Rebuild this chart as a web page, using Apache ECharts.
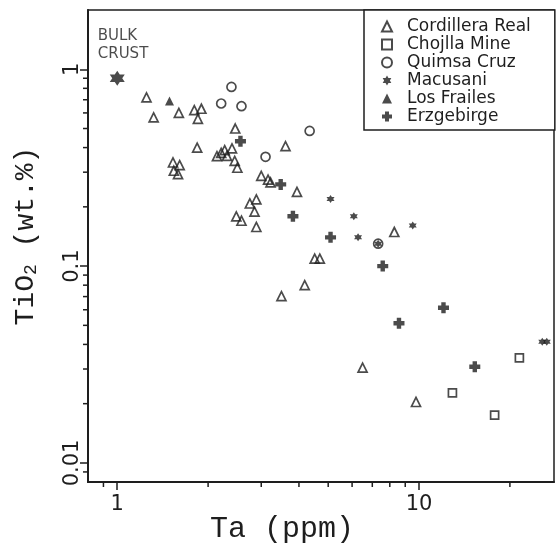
<!DOCTYPE html>
<html><head><meta charset="utf-8">
<script src="https://cdn.jsdelivr.net/npm/echarts@6/dist/echarts.min.js"></script>
<style>html,body{margin:0;padding:0;background:#fff}#c{width:556px;height:550px}</style>
</head><body><div id="c"></div>
<script>
// axis ranges and ticks
const X_MIN = 0.8, X_MAX = 28, Y_MIN = 0.008, Y_MAX = 2;
const xMajorTicks = [1, 10];
const yMajorTicks = [0.01, 0.1, 1];
const xMinorTicks = [0.9, 2, 3, 4, 5, 6, 7, 8, 9, 20];
const yMinorTicks = [0.009, 0.02, 0.03, 0.04, 0.05, 0.06, 0.07, 0.08, 0.09,
                     0.2, 0.3, 0.4, 0.5, 0.6, 0.7, 0.8, 0.9];

const legendNames = ['Cordillera Real', 'Chojlla Mine', 'Quimsa Cruz', 'Macusani', 'Los Frailes', 'Erzgebirge'];

// data [Ta ppm, TiO2 wt.%]
const bulkCrust = [[1.0, 0.90]];
const cordilleraReal = [
  [1.25, 0.72], [1.32, 0.57], [1.60, 0.60], [1.80, 0.62], [1.90, 0.63], [1.85, 0.56],
  [2.46, 0.50], [1.84, 0.40], [1.53, 0.336], [1.61, 0.326], [1.54, 0.305], [1.59, 0.293],
  [2.14, 0.362], [2.21, 0.376], [2.27, 0.388], [2.40, 0.396], [2.31, 0.363], [2.45, 0.342],
  [2.50, 0.316], [3.61, 0.407], [3.00, 0.287], [3.16, 0.275], [3.22, 0.266], [3.94, 0.238],
  [2.75, 0.208], [2.89, 0.218], [2.85, 0.189], [2.48, 0.179], [2.58, 0.170], [2.89, 0.158],
  [8.28, 0.149], [4.51, 0.109], [4.69, 0.109], [4.18, 0.080], [3.50, 0.0704], [6.50, 0.0305],
  [9.77, 0.0204]
];
const chojllaMine = [[12.9, 0.0227], [17.8, 0.0175], [21.5, 0.0342]];
const quimsaCruz = [[2.39, 0.813], [2.21, 0.67], [2.58, 0.649], [3.10, 0.359], [4.34, 0.486], [7.32, 0.130]];
const macusani = [[5.09, 0.219], [6.08, 0.179], [6.28, 0.140], [9.53, 0.161], [7.32, 0.130], [25.6, 0.0413], [26.5, 0.0413]];
const losFrailes = [[1.49, 0.69]];
const erzgebirge = [[2.56, 0.431], [3.48, 0.26], [3.82, 0.179], [5.09, 0.140], [7.58, 0.100], [8.58, 0.0512], [12.05, 0.0614], [15.3, 0.0308]];

const INK = '#1e1e1e';
const STAR = 'path://M10,0L12.89,5L18.66,5L15.77,10L18.66,15L12.89,15L10,20L7.11,15L1.34,15L4.23,10L1.34,5L7.11,5Z';
const CROSS = 'path://M6,0H14V6H20V14H14V20H6V14H0V6H6Z';

function sc(name, data, symbol, size, filled) {
  return {
    type: 'scatter', name: name, data: data, symbol: symbol, symbolSize: size, z: 3,
    itemStyle: filled ? {color: INK} : {color: 'rgba(255,255,255,0)', borderColor: INK, borderWidth: 1.7},
    emphasis: {disabled: true}
  };
}

const chart = echarts.init(document.getElementById('c'), null, {renderer: 'canvas'});
const tickFont = {fontFamily: 'DejaVu Sans', fontSize: 21, color: INK};

const option = {
  animation: false,
  backgroundColor: '#fff',
  grid: {left: 88, top: 10, right: 2, bottom: 68, show: true, borderColor: INK, borderWidth: 1.5, backgroundColor: 'transparent'},
  xAxis: {
    type: 'log', logBase: 10, min: X_MIN, max: X_MAX,
    axisLine: {show: true, lineStyle: {color: INK, width: 2}},
    axisTick: {show: true, length: 8, inside: false, lineStyle: {color: INK, width: 1.5}, customValues: xMajorTicks},
    axisLabel: Object.assign({margin: 12, customValues: xMajorTicks}, tickFont),
    splitLine: {show: false}
  },
  yAxis: {
    type: 'log', logBase: 10, min: Y_MIN, max: Y_MAX,
    axisLine: {show: true, lineStyle: {color: INK, width: 2}},
    axisTick: {show: true, length: 8, inside: false, lineStyle: {color: INK, width: 1.5}, customValues: yMajorTicks},
    axisLabel: Object.assign({margin: 5, rotate: 90, customValues: yMajorTicks}, tickFont),
    splitLine: {show: false}
  },
  legend: {
    data: legendNames,
    orient: 'vertical', left: 364, top: 10,
    padding: [8, 24, 5, 17],
    itemWidth: 10, itemHeight: 10, itemGap: 1,
    backgroundColor: '#fff', borderColor: INK, borderWidth: 1.5,
    selectedMode: false,
    textStyle: {fontFamily: 'DejaVu Sans', fontSize: 17, color: INK, lineHeight: 17, padding: [0, 0, 0, 10]}
  },
  graphic: [
    {type: 'text', left: 210, top: 514, z: 10,
     style: {text: 'Ta (ppm)', font: '30px "Liberation Mono"', fill: INK}},
    {type: 'text', x: 26, y: 236, rotation: Math.PI / 2, z: 10,
     style: {text: 'TiO{s|2} (wt.%)', font: '28px "Liberation Mono"', fill: INK,
             align: 'center', verticalAlign: 'middle',
             rich: {s: {font: '18px "Liberation Mono"', fill: INK, padding: [10, 0, 0, 0]}}}}
  ],
  series: [
    {
      type: 'scatter', name: 'Bulk crust', data: bulkCrust, symbol: STAR, symbolSize: 15, z: 3,
      itemStyle: {color: INK},
      label: {show: true, formatter: 'BULK\nCRUST', position: [-12, -44], align: 'left', verticalAlign: 'top',
              fontFamily: 'DejaVu Sans', fontSize: 15, lineHeight: 18, color: INK}
    },
    sc('Cordillera Real', cordilleraReal, 'triangle', 9, false),
    sc('Chojlla Mine', chojllaMine, 'rect', 8, false),
    sc('Quimsa Cruz', quimsaCruz, 'circle', 9, false),
    sc('Macusani', macusani, STAR, 8, true),
    sc('Los Frailes', losFrailes, 'triangle', 9, true),
    sc('Erzgebirge', erzgebirge, CROSS, 11, true),
    {
      type: 'custom', name: 'xminor', silent: true, z: 2,
      data: xMinorTicks.map(v => [v, Y_MIN]),
      renderItem: function (params, api) {
        const p = api.coord([api.value(0), api.value(1)]);
        return {type: 'line', shape: {x1: p[0], y1: p[1], x2: p[0], y2: p[1] + 5}, style: {stroke: INK, lineWidth: 1.5}};
      }
    },
    {
      type: 'custom', name: 'yminor', silent: true, z: 2,
      data: yMinorTicks.map(v => [X_MIN, v]),
      renderItem: function (params, api) {
        const p = api.coord([api.value(0), api.value(1)]);
        return {type: 'line', shape: {x1: p[0], y1: p[1], x2: p[0] - 5, y2: p[1]}, style: {stroke: INK, lineWidth: 1.5}};
      }
    }
  ]
};
chart.setOption(option);
</script></body></html>
